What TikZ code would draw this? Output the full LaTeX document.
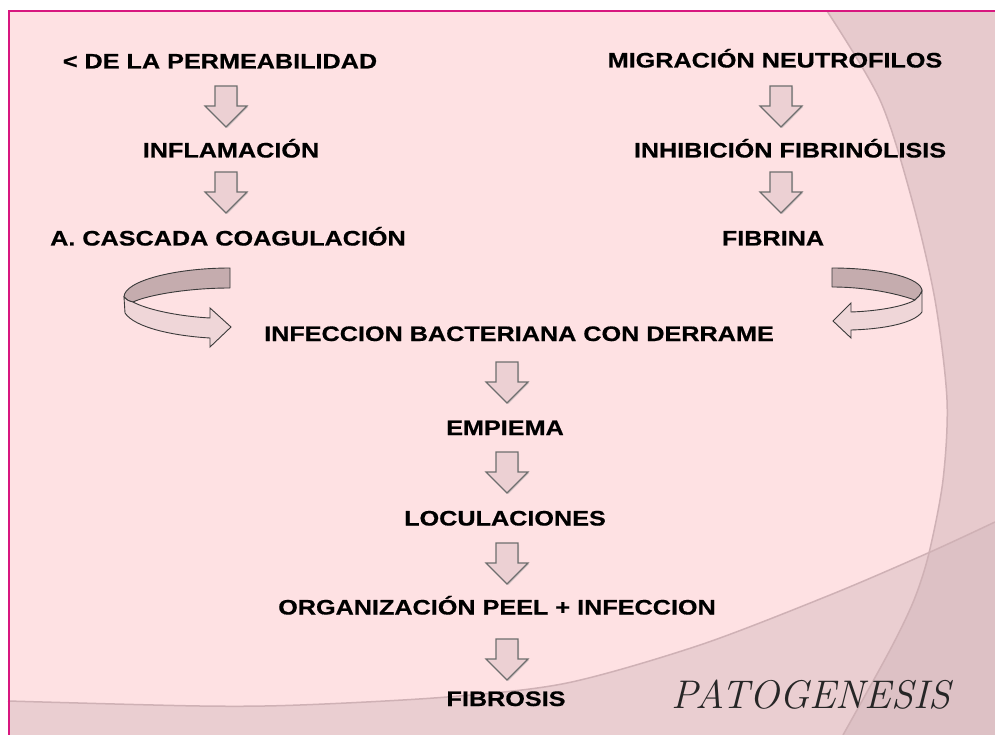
\documentclass[tikz,border=0pt]{standalone}
\usepackage{fontspec}
\newfontfamily\hdfont{Liberation Sans}[FakeStretch=1.2, BoldFeatures={FakeBold=0.6}]
\definecolor{bgmain}{HTML}{FEE1E3}
\definecolor{bgright}{HTML}{E7CACD}
\definecolor{bglow}{HTML}{EACED1}
\definecolor{bgboth}{HTML}{DDC1C5}
\definecolor{curvecol}{HTML}{CFB1B5}
\definecolor{framecol}{HTML}{D8177F}
\definecolor{arrfill}{HTML}{ECD0D3}
\definecolor{arrline}{HTML}{6E6E6E}
\definecolor{backfill}{HTML}{C5ACAE}
\definecolor{frontfill}{HTML}{EFD6D8}
\definecolor{bandline}{HTML}{3A3A3A}
\tikzset{
  lbl/.style={inner sep=0pt, anchor=base, font=\hdfont\bfseries\fontsize{21}{25}\selectfont, text=black},
  ttl/.style={inner sep=0pt, anchor=base, font=\fontsize{40}{44}\selectfont\itshape, text=black!85},
  blockarr/.style={fill=arrfill, draw=arrline, line width=1.1pt, line join=miter},
  blockshadow/.style={fill=black!35, opacity=0.45},
  backband/.style={fill=backfill, draw=bandline, line width=0.9pt, line join=round},
  frontband/.style={fill=frontfill, draw=bandline, line width=0.9pt, line join=miter},
  curveline/.style={draw=curvecol, line width=1.5pt},
  darr/.pic={
    \fill[blockshadow] (-9,1.5) -- (12,1.5) -- (12,21) -- (22,21) -- (1.5,42) -- (-19,21) -- (-9,21) -- cycle;
    \draw[blockarr] (-11,0) -- (11,0) -- (11,20) -- (21,20) -- (0,41) -- (-21,20) -- (-11,20) -- cycle;
  }
}
\begin{document}
\begin{tikzpicture}[x=1pt,y=-1pt]
\useasboundingbox (0,0) rectangle (995,735);
\fill[white] (0,0) rectangle (995,735);
% background
\fill[bgmain] (8,11) rectangle (995,735);
\fill[bgright] plot[smooth] coordinates {(827,11) (880,100) (912,200) (935,300) (947,400) (943,480) (929,553) (914,600) (890,650) (843,735)} -- (995,735) -- (995,11) -- cycle;
\fill[bglow] plot[smooth] coordinates {(8,701) (200,706) (300,705) (447,697) (567,683) (700,645) (830,595) (928,553) (995,522)} -- (995,735) -- (8,735) -- cycle;
\begin{scope}
  \clip plot[smooth] coordinates {(827,11) (880,100) (912,200) (935,300) (947,400) (943,480) (929,553) (914,600) (890,650) (843,735)} -- (995,735) -- (995,11) -- cycle;
  \fill[bgboth] plot[smooth] coordinates {(8,701) (200,706) (300,705) (447,697) (567,683) (700,645) (830,595) (928,553) (995,522)} -- (995,735) -- (8,735) -- cycle;
\end{scope}
\draw[curveline] plot[smooth] coordinates {(827,11) (880,100) (912,200) (935,300) (947,400) (943,480) (929,553) (914,600) (890,650) (843,735)};
\draw[curveline] plot[smooth] coordinates {(8,701) (200,706) (300,705) (447,697) (567,683) (700,645) (830,595) (928,553) (995,522)};
% frame
\draw[framecol, line width=2pt] (8.5,735) -- (8.5,11.5) -- (995,11.5);

% left column
\node[lbl] (perm) at (220,68.5) {< DE LA PERMEABILIDAD};
\node[lbl] (infl) at (231,157.5) {INFLAMACIÓN};
\node[lbl] (casc) at (228,245.5) {A. CASCADA COAGULACIÓN};
% right column
\node[lbl] (migr) at (775,67.5) {MIGRACIÓN NEUTROFILOS};
\node[lbl] (inhib) at (790,157.5) {INHIBICIÓN FIBRINÓLISIS};
\node[lbl] (fibr) at (773,245.5) {FIBRINA};
% centre column
\node[lbl] (infec) at (519,341) {INFECCION BACTERIANA CON DERRAME};
\node[lbl] (empi) at (505,435) {EMPIEMA};
\node[lbl] (locu) at (505,525.5) {LOCULACIONES};
\node[lbl] (orga) at (497,614.5) {ORGANIZACIÓN PEEL + INFECCION};
\node[lbl] (fibro) at (506,706) {FIBROSIS};
\node[ttl] (pato) at (811,708) {PATOGENESIS};

% block arrows
\pic at (226,86) {darr};
\pic at (226,172) {darr};
\pic at (781,86) {darr};
\pic at (781,172) {darr};
\pic at (507,362) {darr};
\pic at (507,452) {darr};
\pic at (507,543) {darr};
\pic at (507,639) {darr};

% left curved arrow
\draw[backband] (230,268) .. controls (175,268) and (124,281) .. (124,297)
  .. controls (126,300) and (129,301) .. (133,302)
  .. controls (148,295) and (188,288) .. (230,288) -- cycle;
\draw[frontband] (124,297) -- (125,313) .. controls (135,328) and (175,336) .. (210,338)
  -- (210,347) -- (231,327) -- (210,308) -- (210,318)
  .. controls (175,316) and (146,309) .. (133,302)
  .. controls (129,301) and (126,300) .. (124,297) -- cycle;

% right curved arrow
\draw[backband] (832,268) .. controls (882,268) and (922,278) .. (922,291)
  .. controls (920,295) and (918,298) .. (915,300)
  .. controls (892,292) and (862,287) .. (832,287) -- cycle;
\draw[frontband] (922,291) -- (922,312) .. controls (914,323) and (885,329) .. (851,330)
  -- (851,338) -- (833,321) -- (851,303) -- (851,312)
  .. controls (880,311) and (905,306) .. (915,300)
  .. controls (918,298) and (920,295) .. (922,291) -- cycle;
\end{tikzpicture}
\end{document}
